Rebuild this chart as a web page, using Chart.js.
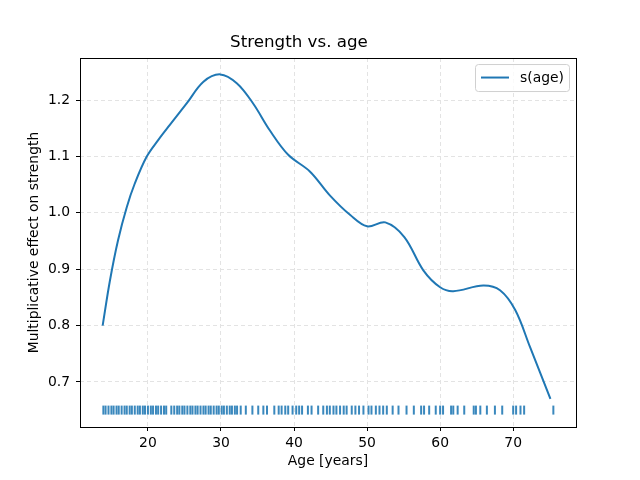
<!DOCTYPE html>
<html>
<head>
<meta charset="utf-8">
<script src="https://cdn.jsdelivr.net/npm/chart.js@4"></script>
<style>
  html, body { margin: 0; padding: 0; background: #fff; }
  #wrap { width: 640px; height: 480px; }
</style>
</head>
<body>
<div id="wrap"><canvas id="chart" width="640" height="480"></canvas></div>
<script>
// smooth term s(age)
const curveAges = [13.8, 14.8, 15.9, 17.1, 18.2, 19.8, 21.4, 23.0, 25.3, 27.6, 29.9, 32.2, 34.4, 36.7, 39.2, 42.2, 44.9, 47.7, 50.0, 52.5, 55.1, 57.7, 60.0, 61.8, 65.9, 68.2, 70.3, 72.3, 75.1];
const curveVals = [0.800, 0.880, 0.951, 1.010, 1.052, 1.099, 1.129, 1.156, 1.194, 1.2325, 1.2456, 1.2296, 1.194, 1.146, 1.103, 1.073, 1.031, 0.996, 0.976, 0.983, 0.957, 0.898, 0.868, 0.861, 0.871, 0.8625, 0.827, 0.762, 0.670];

// observed ages (rug)
const rugAges = [13.9, 14.2, 14.6, 15, 15.3, 15.7, 16, 16.4, 16.8, 17.1, 17.5, 17.8, 18.2, 18.6, 18.9, 19.3, 19.6, 20, 20.4, 20.7, 21.1, 21.4, 21.8, 22.2, 22.5, 23.2, 23.6, 24, 24.3, 24.7, 25, 25.4, 25.8, 26.1, 26.5, 26.8, 27.2, 27.6, 27.9, 28.3, 28.6, 29, 29.4, 29.7, 30.1, 30.4, 30.8, 31.2, 31.5, 31.9, 32.2,
  32.7, 33.4, 34.3, 35.1, 35.8, 36.3, 37.3, 37.9, 38.3, 38.8, 39.2, 39.8, 40.3, 40.7, 41.1, 41.9, 42.4, 43.3, 44.0, 44.5, 44.9, 45.4, 45.8, 46.3, 46.8, 47.2, 47.9, 48.4, 48.9, 49.5, 50.2, 50.6, 51.2, 51.7, 52.2, 52.7, 53.5, 54.3,
  55.4, 56.4, 57.4, 57.8, 58.5, 59.4, 60, 60.4, 61.5, 61.8, 62.4, 63.3, 64.6, 64.9, 65.5, 66.4, 67.5, 68.5, 70.0, 70.4, 71, 71.5, 75.5];
const rugLevel = 0.65;

const xTicks = [20, 30, 40, 50, 60, 70];
const yTicks = [0.7, 0.8, 0.9, 1.0, 1.1, 1.2];

const blue = '#1f77b4';
const font = 'DejaVu Sans';

// axes frame on all four sides, like matplotlib
const frame = {
  id: 'frame',
  afterDraw(chart) {
    const { ctx, chartArea: a } = chart;
    ctx.save();
    ctx.strokeStyle = '#000';
    ctx.lineWidth = 1;
    ctx.strokeRect(Math.round(a.left) + 0.5, Math.round(a.top) + 0.5, Math.round(a.right - a.left), Math.round(a.bottom - a.top));
    ctx.restore();
  }
};

// legend box in the upper right corner of the axes
const legendBox = {
  id: 'legendBox',
  afterDraw(chart) {
    const { ctx, chartArea: a } = chart;
    const w = 94, h = 27;
    const x = a.right - 7 - w, y = a.top + 6;
    ctx.save();
    ctx.fillStyle = 'rgba(255,255,255,0.8)';
    ctx.strokeStyle = '#d0d0d0';
    ctx.lineWidth = 1;
    ctx.beginPath();
    ctx.roundRect(x + 0.5, y + 0.5, w, h, 3);
    ctx.fill();
    ctx.stroke();
    ctx.strokeStyle = blue;
    ctx.lineWidth = 2;
    ctx.beginPath();
    ctx.moveTo(x + 6, y + 13.5);
    ctx.lineTo(x + 34, y + 13.5);
    ctx.stroke();
    ctx.fillStyle = '#000';
    ctx.font = '13.9px "' + font + '"';
    ctx.textBaseline = 'middle';
    ctx.fillText('s(age)', x + 45, y + 14);
    ctx.restore();
  }
};

new Chart(document.getElementById('chart'), {
  type: 'scatter',
  data: {
    datasets: [
      {
        type: 'line',
        label: 's(age)',
        data: curveAges.map((a, i) => ({ x: a, y: curveVals[i] })),
        borderColor: blue,
        borderWidth: 2,
        pointRadius: 0,
        tension: 0.35,
        fill: false
      },
      {
        label: 'rug',
        data: rugAges.map(a => ({ x: a, y: rugLevel })),
        pointStyle: 'line',
        rotation: 90,
        pointRadius: 4.5,
        pointHoverRadius: 4.5,
        borderWidth: 2,
        borderColor: 'rgba(31,119,180,0.88)',
        backgroundColor: 'rgba(31,119,180,0.88)'
      }
    ]
  },
  options: {
    responsive: false,
    animation: false,
    layout: { padding: { left: 22, right: 64, top: 0, bottom: 6 } },
    plugins: {
      legend: { display: false },
      tooltip: { enabled: false },
      title: {
        display: true,
        text: 'Strength vs. age',
        color: '#000',
        font: { family: font, size: 16.7, weight: 'normal' },
        padding: { top: 33, bottom: 5 }
      }
    },
    scales: {
      x: {
        type: 'linear',
        min: 10.7,
        max: 78.6,
        afterFit(s) { s.height = 47; },
        afterBuildTicks(s) { s.ticks = xTicks.map(v => ({ value: v })); },
        grid: { color: '#e3e3e3', tickColor: '#000', tickBorderDash: [], tickLength: 4 },
        border: { display: false, dash: [4, 3] },
        ticks: { color: '#000', font: { family: font, size: 13.9 }, padding: 4, maxRotation: 0 },
        title: { display: true, text: 'Age [years]', color: '#000', font: { family: font, size: 13.9 }, padding: { top: 4, bottom: 4 } }
      },
      y: {
        min: 0.620,
        max: 1.2746,
        afterFit(s) { s.width = 58; },
        afterBuildTicks(s) { s.ticks = yTicks.map(v => ({ value: v })); },
        grid: { color: '#e3e3e3', tickColor: '#000', tickBorderDash: [], tickLength: 4 },
        border: { display: false, dash: [4, 3] },
        ticks: { color: '#000', font: { family: font, size: 13.9 }, padding: 6, callback: v => v.toFixed(1) },
        title: { display: true, text: 'Multiplicative effect on strength', color: '#000', font: { family: font, size: 13.9 }, padding: { top: 4, bottom: 4 } }
      }
    }
  },
  plugins: [frame, legendBox]
});
</script>
</body>
</html>
